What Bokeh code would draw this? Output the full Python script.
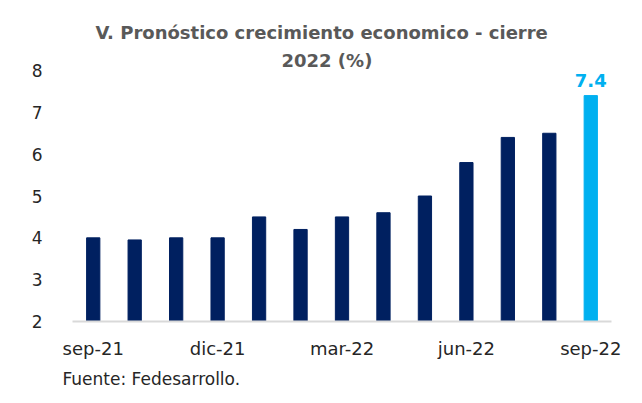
from bokeh.plotting import figure
from bokeh.models import ColumnDataSource, FixedTicker, Title, Range1d
from bokeh.core.properties import value
from bokeh.embed import file_html
from bokeh.resources import INLINE

months = ["sep-21", "oct-21", "nov-21", "dic-21", "ene-22", "feb-22", "mar-22",
          "abr-22", "may-22", "jun-22", "jul-22", "ago-22", "sep-22"]
values = [4.0, 3.95, 4.0, 4.0, 4.5, 4.2, 4.5, 4.6, 5.0, 5.8, 6.4, 6.5, 7.4]
shown_labels = ["sep-21", "dic-21", "mar-22", "jun-22", "sep-22"]
y_ticks = [2, 3, 4, 5, 6, 7, 8]
title_line1 = "V. Pronóstico crecimiento economico - cierre"
title_line2 = "2022 (%)"
source_note = "Fuente: Fedesarrollo."

DARK = "#002060"
LIGHT = "#00B0F0"
FONT = "DejaVu Sans"

idx = list(range(len(months)))
colors = [DARK] * (len(months) - 1) + [LIGHT]
src = ColumnDataSource(dict(x=idx, top=values, color=colors))

p = figure(width=642, height=403, output_backend="svg", toolbar_location=None,
           x_range=Range1d(-0.5, len(months) - 0.5), y_range=Range1d(2, 8),
           min_border_left=72, min_border_right=31, min_border_top=70, min_border_bottom=82)

p.vbar(x="x", top="top", bottom=2, width=0.32, color="color", source=src)

last = len(months) - 1
p.text(x=[last], y=[values[last]], text=[f"{values[last]:.1f}"], text_align="center",
       text_baseline="bottom", y_offset=-9, text_color=LIGHT, text_font_size="18px",
       text_font_style="bold", text_font=value(FONT))

# title: two lines (the later-added title sits closer to the plot)
p.title.text = title_line1
p.title.align = "left"
p.title.text_font = FONT
p.title.text_font_size = "18px"
p.title.text_font_style = "bold"
p.title.text_color = "#595959"
p.title.offset = 23
t2 = Title(text=title_line2, align="left", text_font=FONT, text_font_size="18px",
           text_font_style="bold", text_color="#595959", offset=209, standoff=0)
p.add_layout(t2, "above")

p.grid.visible = False
p.outline_line_color = None

# x axis
xa = p.xaxis[0]
xa.ticker = FixedTicker(ticks=[months.index(m) for m in shown_labels])
xa.major_label_overrides = {months.index(m): m for m in shown_labels}
xa.major_tick_line_color = None
xa.minor_tick_line_color = None
xa.axis_line_color = "#D9D9D9"
xa.axis_line_width = 2
xa.major_label_text_font = FONT
xa.major_label_text_font_size = "18px"
xa.major_label_text_color = "#262626"
xa.major_label_standoff = 10

# y axis
ya = p.yaxis[0]
ya.ticker = FixedTicker(ticks=y_ticks)
ya.axis_line_color = None
ya.major_tick_line_color = None
ya.minor_tick_line_color = None
ya.major_label_text_font = FONT
ya.major_label_text_font_size = "17px"
ya.major_label_text_color = "#262626"
ya.major_label_standoff = 24

src_title = Title(text=source_note, align="left", text_font=FONT,
                  text_font_size="17px", text_font_style="normal", text_color="#262626",
                  offset=-10, standoff=10)
p.add_layout(src_title, "below")

open("out.html", "w").write(file_html(p, INLINE))
